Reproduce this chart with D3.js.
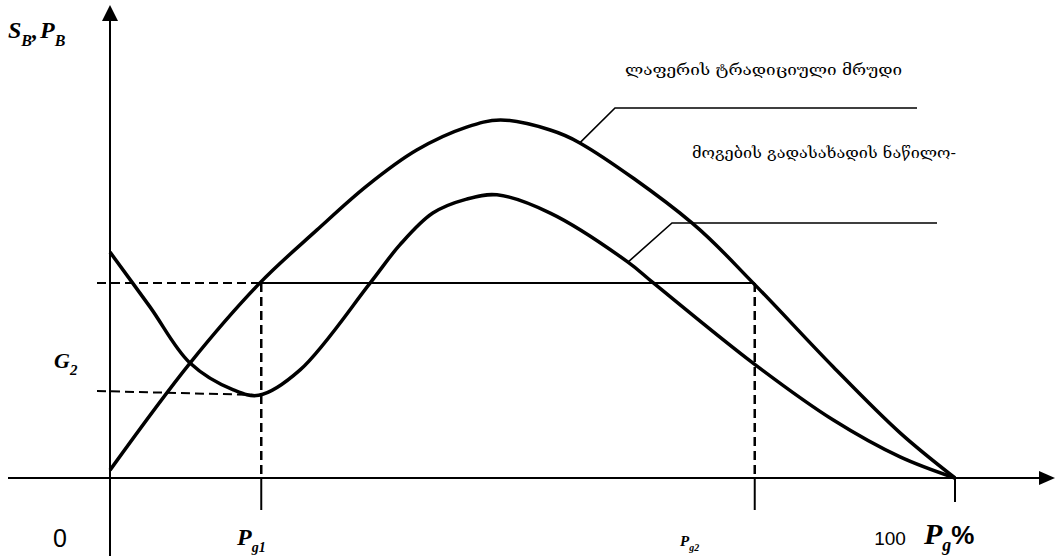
<!DOCTYPE html>
<html><head><meta charset="utf-8">
<script src="https://cdn.jsdelivr.net/npm/d3@7"></script>
<style>html,body{margin:0;padding:0;background:#fff;}svg{display:block;}</style>
</head><body>
<svg id="c" width="1055" height="556"></svg>
<script>
// Data (x: tax rate P_g in %, y: relative value)
const lafferX = [0, 9.47, 17.75, 24.5, 30.4, 36.3, 42.2, 46.2, 52.1, 55.6, 68.9, 76.1, 85.6, 93.5, 100];
const lafferY = [2.2, 32.1, 54.5, 69.3, 81.6, 91.6, 98.0, 100, 97.2, 93.6, 71.2, 54.5, 31.0, 12.6, 0];
const profitX = [0, 4.73, 9.47, 14.6, 17.6, 22.5, 30.8, 34.3, 38.2, 42.2, 45.8, 52.1, 61.3, 64.3, 76.1, 85.6, 93.5, 100];
const profitY = [63.1, 47.8, 32.1, 24.6, 23.1, 30.2, 54.5, 65.1, 74.0, 77.9, 79.1, 74.0, 60.3, 54.5, 32.1, 16.2, 5.9, 0];
const pg1 = 17.9, pg2 = 76.3, levelY = 54.5, g2Y = 24.3, g2Min = 23.2;
const xTickLabels = ["0", "100"];
const label1 = "ლაფერის  ტრადიციული  მრუდი";
const label2 = "მოგების  გადასახადის  ნაწილო-";

const svg = d3.select("#c");
const x = d3.scaleLinear().domain([0, 100]).range([110, 955]);
const y = d3.scaleLinear().domain([0, 100]).range([478, 120]);

// axes
const ax0 = x(0), ay0 = y(0);
svg.append("line").attr("x1", 8).attr("x2", 1042).attr("y1", ay0).attr("y2", ay0).attr("stroke", "#000").attr("stroke-width", 2);
svg.append("line").attr("x1", ax0).attr("x2", ax0).attr("y1", 556).attr("y2", 18).attr("stroke", "#000").attr("stroke-width", 2);
svg.append("path").attr("d", `M${ax0},5 L${ax0-8},21 L${ax0+8},21 Z`).attr("fill", "#000");
svg.append("path").attr("d", `M1055,${ay0} L1039,${ay0-7} L1039,${ay0+7} Z`).attr("fill", "#000");

// ticks below axis
[[pg1, 32], [pg2, 32], [100, 24]].forEach(([v, len]) => {
  svg.append("line").attr("x1", x(v)).attr("x2", x(v)).attr("y1", ay0).attr("y2", ay0 + len).attr("stroke", "#000").attr("stroke-width", 2);
});

// dashed & solid guide lines
const dash = "9,5";
svg.append("line").attr("x1", ax0 - 13).attr("x2", x(pg1)).attr("y1", y(levelY)).attr("y2", y(levelY)).attr("stroke", "#000").attr("stroke-width", 2).attr("stroke-dasharray", dash);
svg.append("line").attr("x1", x(pg1)).attr("x2", x(pg2)).attr("y1", y(levelY)).attr("y2", y(levelY)).attr("stroke", "#000").attr("stroke-width", 2);
svg.append("line").attr("x1", x(pg1)).attr("x2", x(pg1)).attr("y1", y(levelY)).attr("y2", ay0).attr("stroke", "#000").attr("stroke-width", 2.5).attr("stroke-dasharray", dash);
svg.append("line").attr("x1", x(pg2)).attr("x2", x(pg2)).attr("y1", y(levelY)).attr("y2", ay0).attr("stroke", "#000").attr("stroke-width", 2.5).attr("stroke-dasharray", dash);
svg.append("line").attr("x1", ax0 - 13).attr("x2", x(pg1) - 5).attr("y1", y(g2Y)).attr("y2", y(g2Min)).attr("stroke", "#000").attr("stroke-width", 2).attr("stroke-dasharray", dash);

// curves
const line = d3.line().x(d => x(d[0])).y(d => y(d[1])).curve(d3.curveCatmullRom.alpha(0.5));
svg.append("path").attr("d", line(d3.zip(lafferX, lafferY))).attr("fill", "none").attr("stroke", "#000").attr("stroke-width", 3.5);
svg.append("path").attr("d", line(d3.zip(profitX, profitY))).attr("fill", "none").attr("stroke", "#000").attr("stroke-width", 3.5);

// leader lines
svg.append("path").attr("d", `M${x(55.6)},${y(93.6)} L615,108 L917,108`).attr("fill", "none").attr("stroke", "#000").attr("stroke-width", 1.6);
svg.append("path").attr("d", `M${x(61.3)},${y(60.3)} L672,223 L937,223`).attr("fill", "none").attr("stroke", "#000").attr("stroke-width", 1.6);

// Georgian labels
const geo = "'DejaVu Serif','DejaVu Sans',serif";
svg.append("text").attr("x", 625).attr("y", 75).attr("font-family", geo).attr("font-size", 14).attr("textLength", 277).attr("lengthAdjust", "spacingAndGlyphs").text(label1);
svg.append("text").attr("x", 692).attr("y", 158).attr("font-family", geo).attr("font-size", 14).attr("textLength", 264).attr("lengthAdjust", "spacingAndGlyphs").text(label2);

// numeric labels
svg.append("text").attr("x", 60).attr("y", 547).attr("text-anchor", "middle").attr("font-family", "'Liberation Sans',Arial,sans-serif").attr("font-size", 25).text(xTickLabels[0]);
svg.append("text").attr("x", 890).attr("y", 545).attr("text-anchor", "middle").attr("font-family", "'Liberation Sans',Arial,sans-serif").attr("font-size", 19).text(xTickLabels[1]);

// math labels
const mf = "'Liberation Serif','DejaVu Serif',serif";
function mathLabel(xp, yp, main, sub, size, subSize, bold) {
  const t = svg.append("text").attr("x", xp).attr("y", yp).attr("font-family", mf).attr("font-style", "italic").attr("font-weight", bold ? "bold" : "normal").attr("font-size", size);
  t.append("tspan").text(main);
  t.append("tspan").attr("font-size", subSize).attr("dy", size * 0.3).text(sub);
  return t;
}
// S_B, P_B
const sb = svg.append("text").attr("x", 8).attr("y", 38).attr("font-family", mf).attr("font-style", "italic").attr("font-weight", "bold").attr("font-size", 24);
sb.append("tspan").text("S");
sb.append("tspan").attr("font-size", 16).attr("dy", 8).text("B");
sb.append("tspan").attr("dy", -8).text(",");
sb.append("tspan").attr("dx", 2).text("P");
sb.append("tspan").attr("font-size", 16).attr("dy", 8).text("B");
// G2
mathLabel(54, 368, "G", "2", 22, 15, true);
// Pg1, Pg2
mathLabel(237, 545, "P", "g1", 24, 14, true);
mathLabel(680, 546, "P", "g2", 15, 10, true);
// Pg %
const pg = svg.append("text").attr("x", 924).attr("y", 544).attr("font-family", mf).attr("font-style", "italic").attr("font-weight", "bold").attr("font-size", 30);
pg.append("tspan").text("P");
pg.append("tspan").attr("font-size", 18).attr("dy", 7).text("g");
pg.append("tspan").attr("font-family", "'Liberation Sans',Arial,sans-serif").attr("font-style", "normal").attr("font-size", 26).attr("dy", -7).text("%");
</script>
</body></html>
